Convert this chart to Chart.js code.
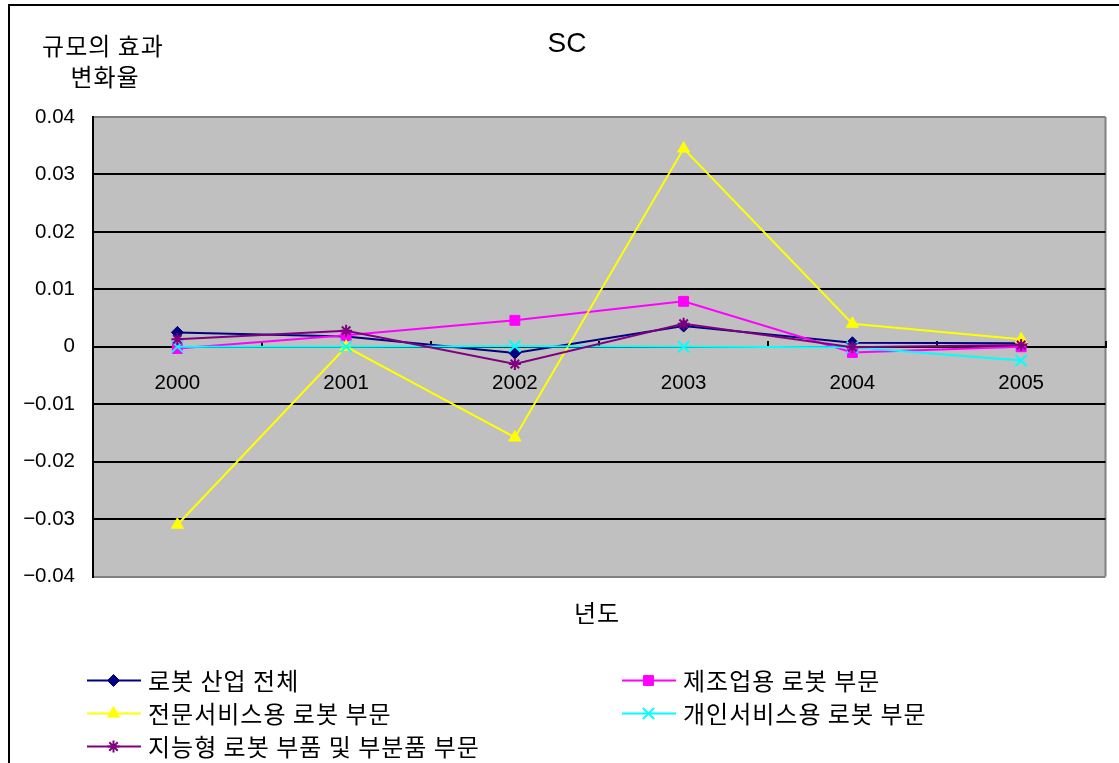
<!DOCTYPE html>
<html>
<head>
<meta charset="utf-8">
<script src="https://cdn.jsdelivr.net/npm/chart.js@4.4.1/dist/chart.umd.min.js"></script>
<style>
  html, body { margin: 0; padding: 0; background: #fff; overflow: hidden; }
  #frame { position: absolute; left: 8px; top: 4px; width: 1200px; height: 900px; border: 2px solid #000; }
  #chart { position: absolute; left: 0; top: 0; }
</style>
</head>
<body>
<div id="frame"></div>
<canvas id="chart" width="1119" height="763"></canvas>
<script>
// categories
const years = ['2000', '2001', '2002', '2003', '2004', '2005'];

// series values
const robotIndustry    = [0.0025, 0.0018, -0.0011, 0.0036, 0.0007, 0.0006];
const manufacturing    = [-0.0003, 0.0020, 0.0046, 0.0079, -0.0010, 0.0000];
const proService       = [-0.0310, 0.0000, -0.0158, 0.0345, 0.0040, 0.0013];
const personalService  = [0.0000, 0.0000, 0.0001, 0.0000, -0.0001, -0.0024];
const intelligentParts = [0.0013, 0.0028, -0.0030, 0.0040, -0.0001, 0.0003];

const seriesNames = [
  '로봇 산업 전체',
  '제조업용 로봇 부문',
  '전문서비스용 로봇 부문',
  '개인서비스용 로봇 부문',
  '지능형 로봇 부품 및 부분품 부문'
];

// axis range / ticks
const yMin = -0.04;
const yMax = 0.04;
const yStep = 0.01;

const chartTitle = 'SC';
const yTitleLines = ['규모의 효과', '변화율'];
const xTitle = '년도';

const NUM_FONT = '"Liberation Sans", Arial, "Noto Sans CJK KR", sans-serif';
const KR_FONT = '"Noto Sans CJK KR", "Liberation Sans", sans-serif';

function fmtTick(v) {
  const r = Math.round(v * 100) / 100;
  if (r === 0) return '0';
  return (r < 0 ? '\u2212' : '') + Math.abs(r).toFixed(2);
}

function makeSet(i, data, color, style, radius, pbw) {
  return {
    label: seriesNames[i],
    data: data,
    borderColor: color,
    backgroundColor: color,
    borderWidth: 2,
    pointStyle: style,
    pointRadius: radius,
    pointHoverRadius: radius,
    pointBorderWidth: pbw,
    pointBackgroundColor: color,
    pointBorderColor: color,
    tension: 0,
    order: 4 - i   // later series on top, like the original
  };
}

// korean text is wider in the original font
function krText(ctx, text, x, y) {
  ctx.font = '24px ' + KR_FONT;
  if ('letterSpacing' in ctx) ctx.letterSpacing = '1px';
  ctx.fillText(text, x, y);
  if ('letterSpacing' in ctx) ctx.letterSpacing = '0px';
}

// gray plot background + frame, titles and a two-column legend
const decorations = {
  id: 'decorations',
  beforeDraw(chart) {
    const { ctx, chartArea: a } = chart;
    ctx.save();
    ctx.fillStyle = '#C0C0C0';
    ctx.fillRect(a.left, a.top, a.right - a.left, a.bottom - a.top);
    ctx.strokeStyle = '#808080';
    ctx.lineWidth = 2;
    ctx.beginPath();
    ctx.moveTo(a.right, a.top);
    ctx.lineTo(a.right, a.bottom);
    ctx.stroke();
    ctx.restore();
  },
  afterDraw(chart) {
    const ctx = chart.ctx;
    ctx.save();
    ctx.fillStyle = '#000';
    ctx.textAlign = 'center';
    ctx.textBaseline = 'middle';

    ctx.font = '28px ' + NUM_FONT;
    ctx.fillText(chartTitle, 567, 44);

    krText(ctx, yTitleLines[0], 103, 46);
    krText(ctx, yTitleLines[1], 105, 77);
    krText(ctx, xTitle, 597, 613);

    // legend
    const cols = [87, 622];
    const rows = [680.5, 713.5, 746.5];
    chart.data.datasets.forEach((ds, i) => {
      const x0 = cols[i % 2];
      const y0 = rows[Math.floor(i / 2)];
      ctx.strokeStyle = ds.borderColor;
      ctx.fillStyle = ds.borderColor;
      ctx.lineWidth = 2;
      ctx.beginPath();
      ctx.moveTo(x0, y0);
      ctx.lineTo(x0 + 54, y0);
      ctx.stroke();
      ctx.lineWidth = ds.pointBorderWidth;
      Chart.helpers.drawPoint(ctx, {
        pointStyle: ds.pointStyle,
        radius: ds.pointRadius,
        borderWidth: ds.pointBorderWidth,
        rotation: 0
      }, x0 + 26.5, y0);
      ctx.fillStyle = '#000';
      ctx.textAlign = 'left';
      krText(ctx, ds.label, x0 + 61, y0);
    });
    ctx.restore();
  }
};

new Chart(document.getElementById('chart'), {
  type: 'line',
  data: {
    labels: years,
    datasets: [
      makeSet(0, robotIndustry, '#000080', 'rectRot', 6, 1),
      makeSet(1, manufacturing, '#FF00FF', 'rect', 7, 1),
      makeSet(2, proService, '#FFFF00', 'triangle', 7, 1),
      makeSet(3, personalService, '#00FFFF', 'crossRot', 8, 2),
      makeSet(4, intelligentParts, '#800080', 'star', 6, 2)
    ]
  },
  options: {
    responsive: false,
    animation: false,
    devicePixelRatio: 1,
    layout: {
      padding: { left: 10, right: 13.5, top: 117, bottom: 186.5 }
    },
    plugins: {
      legend: { display: false },
      title: { display: false },
      tooltip: { enabled: false }
    },
    scales: {
      x: {
        type: 'category',
        position: { y: 0 },
        offset: true,
        grid: {
          drawOnChartArea: false,
          drawTicks: true,
          tickLength: -7,
          offset: true,
          color: '#000',
          lineWidth: 2
        },
        border: { color: '#000', width: 2 },
        ticks: {
          padding: 31,
          color: '#000',
          maxRotation: 0,
          font: { family: NUM_FONT, size: 20.5 }
        }
      },
      y: {
        type: 'linear',
        min: yMin,
        max: yMax,
        afterFit(scale) { scale.width = 83; },
        grid: {
          color: c => (c.tick && Math.abs(c.tick.value) > 0.035 ? '#808080' : '#000'),
          lineWidth: 2,
          drawTicks: false
        },
        border: { color: '#000', width: 2 },
        ticks: {
          stepSize: yStep,
          padding: 18,
          color: '#000',
          font: { family: NUM_FONT, size: 20.5 },
          callback: v => fmtTick(v)
        }
      }
    }
  },
  plugins: [decorations]
});
</script>
</body>
</html>
